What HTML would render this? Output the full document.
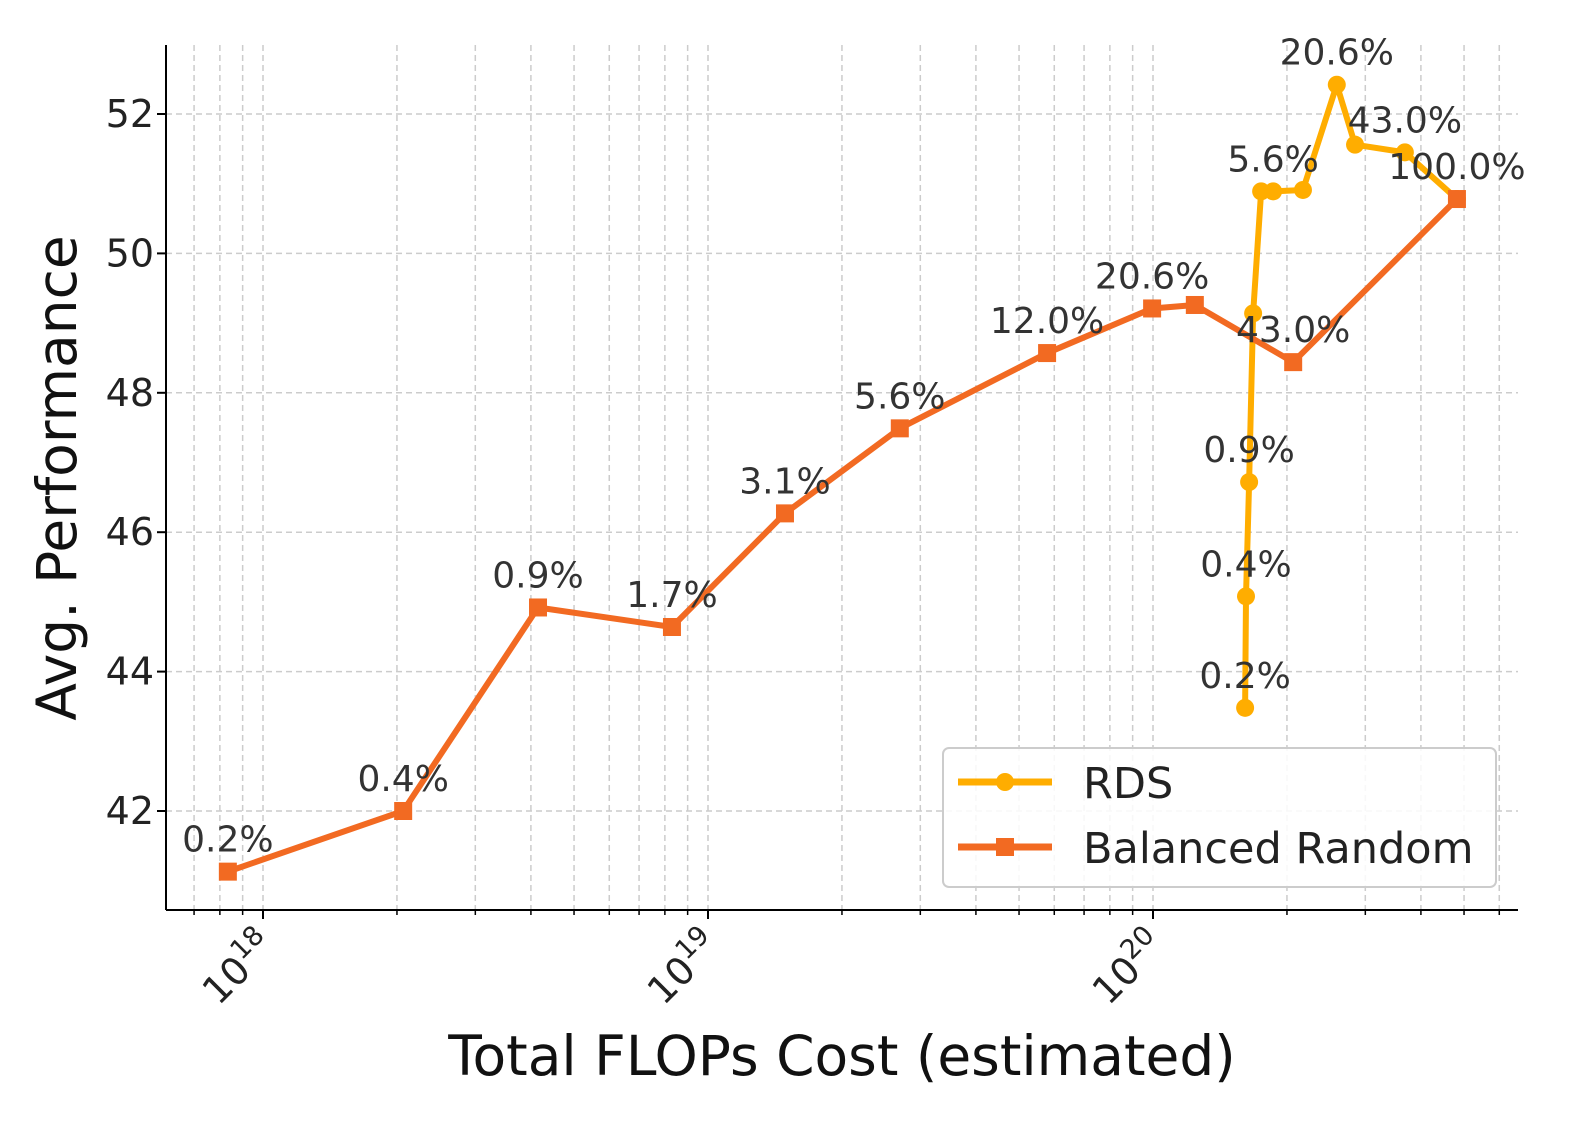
<!DOCTYPE html>
<html><head><meta charset="utf-8"><style>
body{margin:0;background:#fff}
svg text{font-family:"DejaVu Sans","Liberation Sans",sans-serif}
</style></head><body>
<svg id="chart" width="1578" height="1127" xmlns="http://www.w3.org/2000/svg">
<g id="grid"></g>
<g id="axes"></g>
<g id="series"></g>
<g id="labels"></g>
<text x="842" y="1075" font-size="55" text-anchor="middle" fill="#111">Total FLOPs Cost (estimated)</text>
<text transform="translate(76,478) rotate(-90)" font-size="55" text-anchor="middle" fill="#111">Avg. Performance</text>
<g>
<rect x="943" y="748" width="553" height="139" rx="6" fill="#fff" fill-opacity="0.85" stroke="#ccc" stroke-width="2"/>
<g>
<line x1="958" y1="782" x2="1052" y2="782" stroke="#FFAD00" stroke-width="7"/>
<circle cx="1005" cy="782" r="9" fill="#FFAD00"/>
<text x="1083" y="798" font-size="43" fill="#222">RDS</text></g>
<g>
<line x1="958" y1="847" x2="1052" y2="847" stroke="#F26A22" stroke-width="7"/>
<rect x="996" y="838" width="18" height="18" fill="#F26A22"/>
<text x="1083" y="863" font-size="43" fill="#222">Balanced Random</text></g>
</g>
</svg>
<script>
const balLogX=[17.921,18.315,18.618,18.919,19.173,19.431,19.762,19.998,20.094,20.315,20.683];
const balY=[41.13,42.0,44.92,44.64,46.27,47.49,48.57,49.21,49.26,48.44,50.78];
const balLabels=["0.2%","0.4%","0.9%","1.7%","3.1%","5.6%","12.0%","20.6%","","43.0%",""];
const rdsLogX=[20.207,20.209,20.216,20.225,20.243,20.270,20.337,20.413,20.454,20.566,20.683];
const rdsY=[43.48,45.08,46.72,49.14,50.89,50.89,50.91,52.42,51.56,51.45,50.78];
const rdsLabels=["0.2%","0.4%","0.9%","","","5.6%","","20.6%","","43.0%","100.0%"];
const yTicks=[42,44,46,48,50,52];
const xDecades=[18,19,20];
const L=166,R=1518,T=45,B=910;
const X=v=>263+(v-18)*445;
const Y=v=>811-(v-42)*69.7;
const NS="http://www.w3.org/2000/svg";
function mk(p,t,a){const e=document.createElementNS(NS,t);for(const k in a)e.setAttribute(k,a[k]);p.appendChild(e);return e;}
const grid=document.getElementById('grid'),axes=document.getElementById('axes'),ser=document.getElementById('series'),lab=document.getElementById('labels');
for(const v of yTicks){
 const g=mk(grid,'line',{x1:L,x2:R,y1:Y(v),y2:Y(v),stroke:'#ccc','stroke-width':1.5,'stroke-dasharray':'6,4'});
 
 
 mk(axes,'line',{x1:L-9,x2:L,y1:Y(v),y2:Y(v),stroke:'#000','stroke-width':2});
 const t=mk(axes,'text',{x:L-12,y:Y(v)+13,'font-size':38,'text-anchor':'end',fill:'#222'});t.textContent=v;
 
 
}
for(let d=17;d<=20;d++)for(let m=1;m<=9;m++){
 const lx=d+Math.log10(m);const px=X(lx);if(px<L||px>R)continue;
 const g=mk(grid,'line',{x1:px,x2:px,y1:T,y2:B,stroke:'#ccc','stroke-width':1.5,'stroke-dasharray':'6,4'});
 
 
 mk(axes,'line',{x1:px,x2:px,y1:B,y2:B+(m==1?9:5),stroke:'#000','stroke-width':m==1?2:1.5});
}
for(const d of xDecades){
 const px=X(d);
 const t=mk(axes,'text',{transform:`translate(${px+14},${B+38}) rotate(-45)`,'font-size':38,'text-anchor':'end',fill:'#222'});
 
 
 t.innerHTML=`10<tspan dy="-16" font-size="27">${d}</tspan>`;
}
mk(axes,'line',{x1:L,x2:L,y1:T,y2:B,stroke:'#000','stroke-width':2});
mk(axes,'line',{x1:L,x2:R,y1:B,y2:B,stroke:'#000','stroke-width':2});
function series(xs,ys,labels,color,sq,name){
 const pl=mk(ser,'polyline',{points:xs.map((x,i)=>X(x)+','+Y(ys[i])).join(' '),fill:'none',stroke:color,'stroke-width':6,'stroke-linejoin':'round'});
 
 
 xs.forEach((x,i)=>{
  let m;
  if(sq)m=mk(ser,'rect',{x:X(x)-9,y:Y(ys[i])-9,width:18,height:18,fill:color});
  else m=mk(ser,'circle',{cx:X(x),cy:Y(ys[i]),r:9,fill:color});
  
  
  if(labels[i]){const t=mk(lab,'text',{x:X(x),y:Y(ys[i])-20,'font-size':36,'text-anchor':'middle',fill:'#333'});t.textContent=labels[i];
   
   }
 });
}
series(rdsLogX,rdsY,rdsLabels,'#FFAD00',false,'rds');
series(balLogX,balY,balLabels,'#F26A22',true,'balanced-random');
</script>
</body></html>
